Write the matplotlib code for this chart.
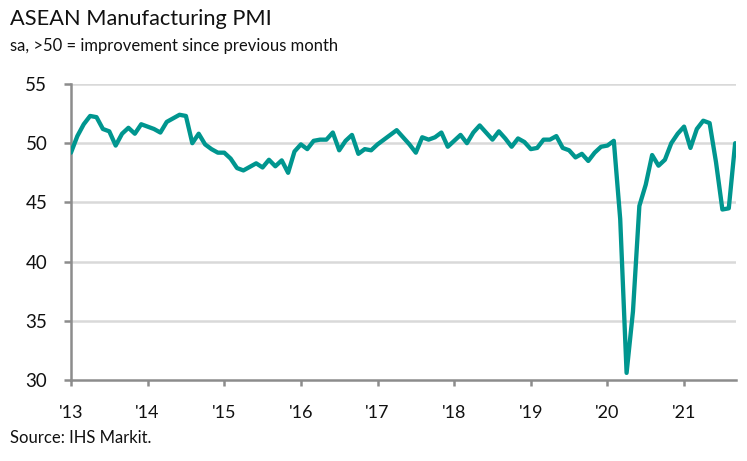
import matplotlib
matplotlib.use("Agg")
import matplotlib.pyplot as plt
import numpy as np

# Monthly ASEAN Manufacturing PMI, Jan 2013 - Sep 2021
pmi_2013 = [49.2, 50.6, 51.6, 52.3, 52.2, 51.2, 51.0, 49.8, 50.8, 51.3, 50.8, 51.6]
pmi_2014 = [51.4, 51.2, 50.9, 51.8, 52.1, 52.4, 52.3, 50.0, 50.8, 49.9, 49.5, 49.2]
pmi_2015 = [49.2, 48.7, 47.9, 47.7, 48.0, 48.3, 47.95, 48.6, 48.05, 48.55, 47.5, 49.3]
pmi_2016 = [49.9, 49.5, 50.2, 50.3, 50.3, 50.9, 49.4, 50.2, 50.7, 49.1, 49.5, 49.4]
pmi_2017 = [49.9, 50.3, 50.7, 51.1, 50.5, 49.9, 49.2, 50.5, 50.3, 50.5, 50.9, 49.7]
pmi_2018 = [50.2, 50.7, 50.0, 50.9, 51.5, 50.9, 50.3, 51.0, 50.4, 49.7, 50.4, 50.1]
pmi_2019 = [49.5, 49.6, 50.3, 50.3, 50.6, 49.6, 49.4, 48.8, 49.1, 48.5, 49.2, 49.7]
pmi_2020 = [49.8, 50.2, 43.6, 30.6, 35.8, 44.7, 46.5, 49.0, 48.1, 48.6, 50.0, 50.8]
pmi_2021 = [51.4, 49.6, 51.2, 51.9, 51.7, 48.4, 44.4, 44.5, 50.0]

pmi = (pmi_2013 + pmi_2014 + pmi_2015 + pmi_2016 + pmi_2017 +
       pmi_2018 + pmi_2019 + pmi_2020 + pmi_2021)
year_labels = ["'13", "'14", "'15", "'16", "'17", "'18", "'19", "'20", "'21"]
y_ticks = [30, 35, 40, 45, 50, 55]

FONT = "Lato"
plt.rcParams['font.family'] = [FONT, 'DejaVu Sans']

fig = plt.figure(figsize=(7.47, 4.61), dpi=100)
ax = fig.add_axes([0.095, 0.1757, 0.89, 0.6421])

months = np.arange(len(pmi))
ax.plot(months, pmi, color="#00968F", lw=3.1, solid_joinstyle="round",
        solid_capstyle="round", zorder=3)

ax.set_xlim(0, 104.1)
ax.set_ylim(30, 55)
ax.set_yticks(y_ticks)
ax.set_xticks(np.arange(len(year_labels)) * 12)
ax.set_xticklabels(year_labels)

for y in y_ticks[1:]:
    ax.axhline(y, color="#d9d9d9", lw=1.8, zorder=1)

for s in ["top", "right"]:
    ax.spines[s].set_visible(False)
for s in ["left", "bottom"]:
    ax.spines[s].set_color("#8c8c8c")
    ax.spines[s].set_linewidth(1.8)

ax.tick_params(axis="y", length=5, width=1.8, color="#8c8c8c", pad=12,
               labelsize=13.5, labelcolor="#111111")
ax.tick_params(axis="x", length=4, width=1.8, color="#8c8c8c", pad=14,
               labelsize=13, labelcolor="#111111")

fig.text(0.013, 0.945, "ASEAN Manufacturing PMI", fontsize=15.7,
         color="#111111", va="baseline", ha="left")
fig.text(0.013, 0.89, "sa, >50 = improvement since previous month",
         fontsize=12, color="#111111", va="baseline", ha="left")
fig.text(0.013, 0.04, "Source: IHS Markit.", fontsize=12,
         color="#111111", va="baseline", ha="left")

fig.savefig("out.png", dpi=100)
